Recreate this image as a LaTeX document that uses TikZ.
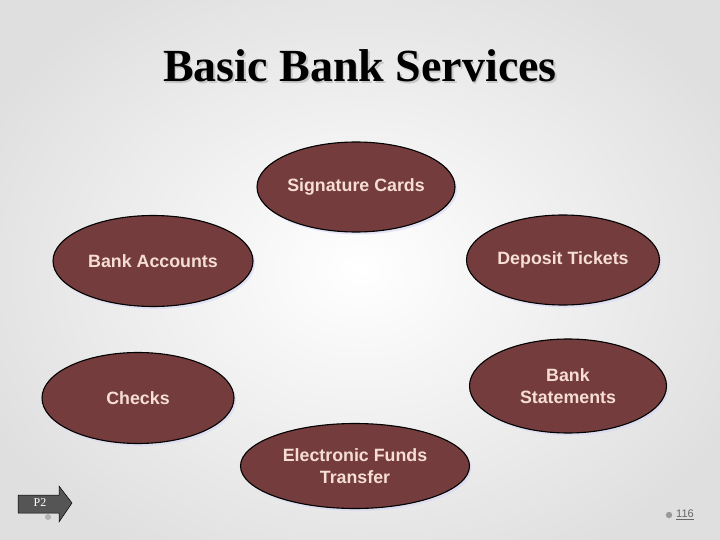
\documentclass[tikz,border=0pt]{standalone}
\usepackage{fontspec}
\setmainfont{Liberation Serif}
\setsansfont{Liberation Sans}
\usetikzlibrary{shapes.geometric,shapes.arrows,shadows}
\definecolor{bubble}{HTML}{743C3C}
\definecolor{bubbletext}{HTML}{F6DED6}
\definecolor{arrowgray}{HTML}{555555}
\tikzset{
  bubble/.style={ellipse, draw=black, line width=1.1pt, fill=bubble, inner sep=0pt,
    text=bubbletext, font=\sffamily\bfseries\fontsize{17.8}{22}\selectfont, align=center,
    drop shadow={fill=gray!40!blue!20, shadow xshift=2pt, shadow yshift=-2.5pt, opacity=0.6}},
  titletext/.style={font=\bfseries\fontsize{46}{50}\selectfont},
}
\begin{document}
\begin{tikzpicture}[x=1pt,y=-1pt]
\useasboundingbox (0,0) rectangle (720,540);
\shade[inner color=white, outer color=gray!25] (-60,-60) rectangle (780,600);
% title
\node[titletext, text=gray!45] (titleshadow) at (361.5,67.5) {Basic Bank Services};
\node[titletext, text=black] (title) at (360,66) {Basic Bank Services};
% ellipses
\node[bubble, minimum width=198pt, minimum height=90pt] (sig) at (356,187) {Signature Cards};
\node[bubble, minimum width=200pt, minimum height=91pt] (acc) at (153,261) {Bank Accounts};
\node[bubble, minimum width=193pt, minimum height=90pt] (dep) at (563,260) {Deposit Tickets};
\node[bubble, minimum width=192pt, minimum height=91pt] (chk) at (138,398) {Checks};
\node[bubble, minimum width=197pt, minimum height=94pt] (stm) at (568,386) {Bank\\Statements};
\node[bubble, minimum width=229pt, minimum height=85pt] (eft) at (355,466) {Electronic Funds\\Transfer};
% P2 arrow
\fill[gray!60] (48,517) circle (3);
\draw[fill=arrowgray, draw=black, line width=0.5pt]
  (18,495) -- (59,495) -- (59,486) -- (72,503) -- (59,522) -- (59,513) -- (18,513) -- cycle;
\node[text=white, font=\fontsize{12}{14}\selectfont] (p2) at (40,503) {P2};
% page number
\fill[gray!80] (669,515) circle (3.2);
\node[text=gray!80!black, font=\sffamily\fontsize{11}{13}\selectfont, inner sep=1pt] (pg) at (685,515) {\underline{116}};
\end{tikzpicture}
\end{document}
